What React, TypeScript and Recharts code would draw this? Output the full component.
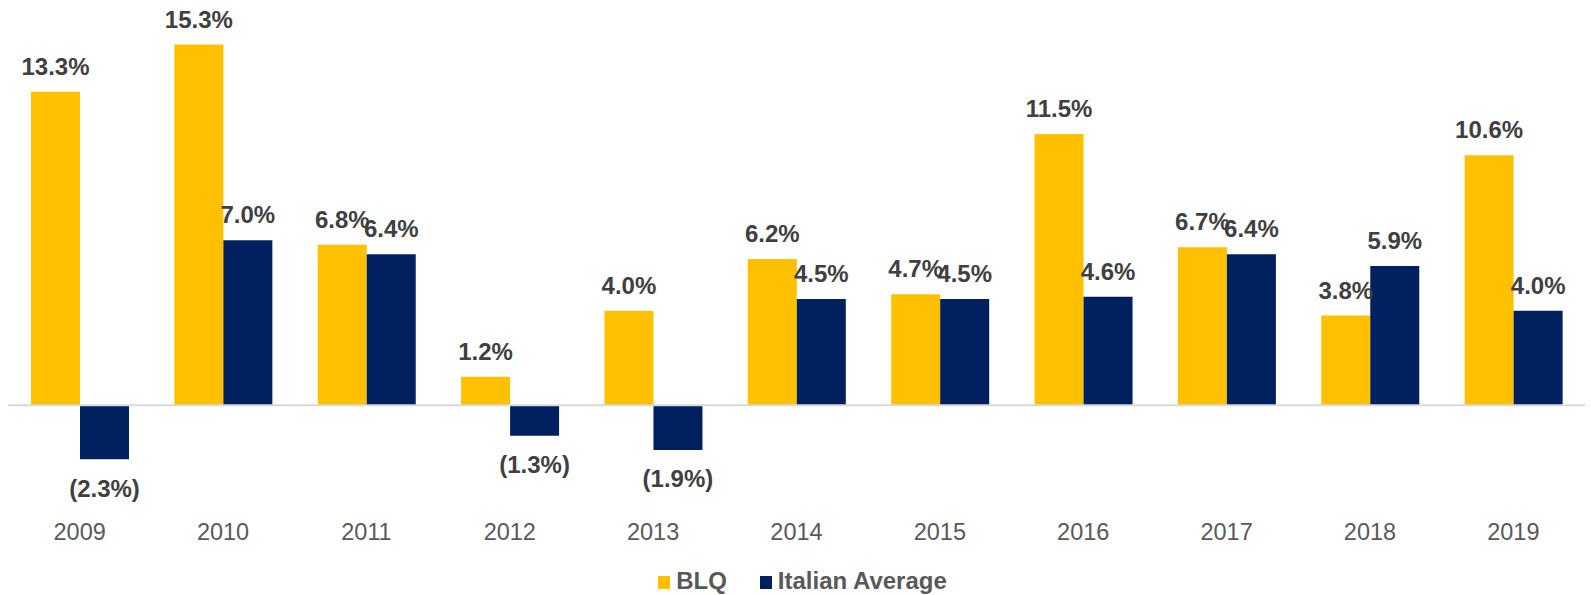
import React from "react";
import {
  BarChart,
  Bar,
  XAxis,
  YAxis,
  Legend,
  LabelList,
  ReferenceLine,
} from "recharts";

const YEARS = ["2009", "2010", "2011", "2012", "2013", "2014", "2015", "2016", "2017", "2018", "2019"];
const BLQ = [13.3, 15.3, 6.8, 1.2, 4.0, 6.2, 4.7, 11.5, 6.7, 3.8, 10.6];
const ITALIAN_AVG = [-2.3, 7.0, 6.4, -1.3, -1.9, 4.5, 4.5, 4.6, 6.4, 5.9, 4.0];

const BLQ_COLOR = "#FFC000";
const ITA_COLOR = "#002060";
const FONT = '"Liberation Sans", Arial, sans-serif';
const LABEL_SIZE = 24;

const data = YEARS.map((year, i) => ({ year, blq: BLQ[i], ita: ITALIAN_AVG[i] }));

function fmtPct(v: number): string {
  const s = Math.abs(v).toFixed(1) + "%";
  return v < 0 ? `(${s})` : s;
}

// positive values sit above the bar, negatives below it in brackets
function ValueLabel(props: any) {
  const { x, y, width, height, value } = props;
  const v = Number(value);
  const top = Math.min(y, y + height);
  const bottom = Math.max(y, y + height);
  const cx = x + width / 2;
  const ty = v >= 0 ? top - 17 : bottom + 20 + LABEL_SIZE * 0.72;
  return (
    <text x={cx} y={ty} textAnchor="middle" fill="#404040" fontSize={LABEL_SIZE} fontWeight={700}>
      {fmtPct(v)}
    </text>
  );
}

function LegendBox() {
  const items = [
    { name: "BLQ", color: BLQ_COLOR },
    { name: "Italian Average", color: ITA_COLOR },
  ];
  return (
    <div style={{ display: "flex", justifyContent: "center", gap: 33, lineHeight: "24px", paddingLeft: 14 }}>
      {items.map((it) => (
        <span key={it.name} style={{ fontSize: 24, fontWeight: 700, color: "#595959", fontFamily: FONT }}>
          <span
            style={{
              display: "inline-block",
              width: 12,
              height: 13,
              background: it.color,
              marginRight: 6,
              verticalAlign: "baseline",
            }}
          />
          {it.name}
        </span>
      ))}
    </div>
  );
}

export default function App() {
  return (
    <div style={{ position: "absolute", left: 0, top: 0, width: 1591, height: 595, fontFamily: FONT, background: "#fff" }}>
      <BarChart
        width={1591}
        height={595}
        data={data}
        margin={{ top: 28, right: 6, left: 8, bottom: 42 }}
        barGap={0}
      >
        <XAxis
          dataKey="year"
          axisLine={false}
          tickLine={false}
          tickSize={0}
          tickMargin={0}
          height={30}
          interval={0}
          tick={{ fill: "#595959", fontSize: 23.5 }}
        />
        <YAxis hide domain={[-5, 16]} />
        <ReferenceLine y={0} stroke="#D9D9D9" strokeWidth={2} />
        <Legend
          verticalAlign="middle"
          align="center"
          layout="horizontal"
          wrapperStyle={{ top: 569, left: 0, width: 1591 }}
          content={() => <LegendBox />}
        />
        <Bar dataKey="blq" name="BLQ" fill={BLQ_COLOR} barSize={49} isAnimationActive={false}>
          <LabelList dataKey="blq" content={ValueLabel} />
        </Bar>
        <Bar dataKey="ita" name="Italian Average" fill={ITA_COLOR} barSize={49} isAnimationActive={false}>
          <LabelList dataKey="ita" content={ValueLabel} />
        </Bar>
      </BarChart>
    </div>
  );
}
